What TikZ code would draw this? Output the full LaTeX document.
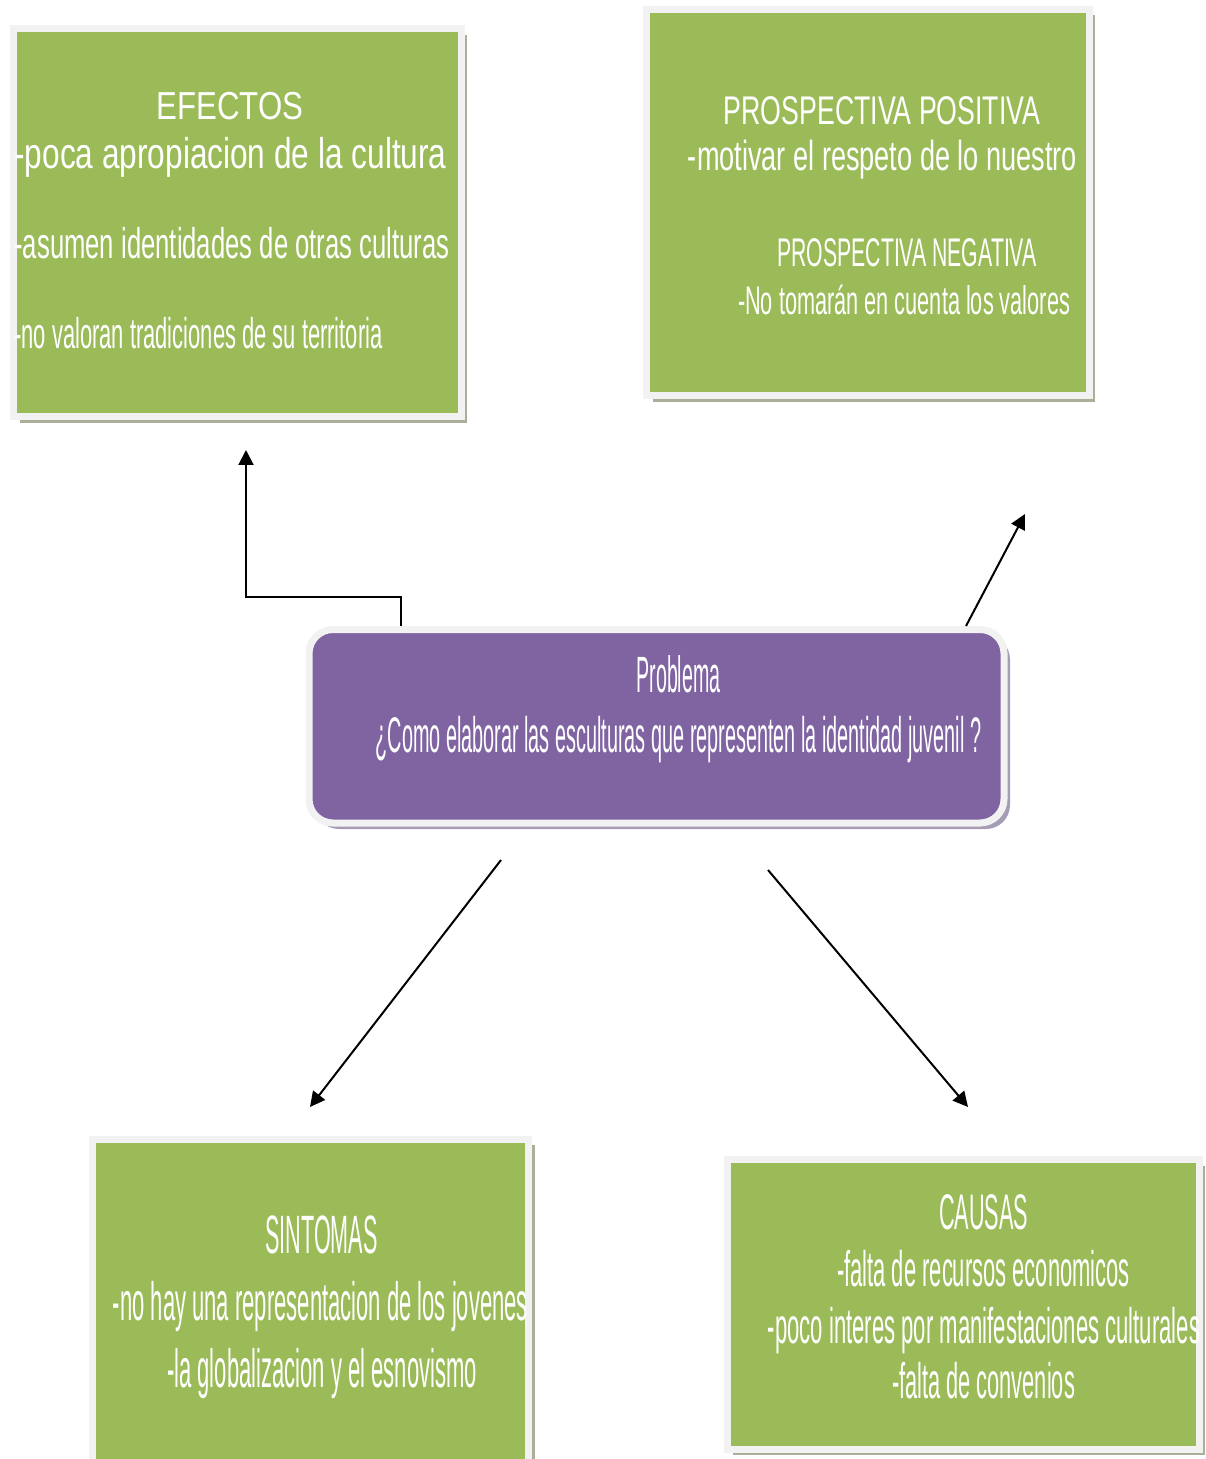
\documentclass[tikz,border=0pt]{standalone}
\usepackage{fontspec}
\setmainfont{Liberation Sans}
\usepackage{graphicx}
\usetikzlibrary{arrows.meta, positioning, fit, shadows}

\definecolor{boxgreen}{HTML}{9BBB59}
\definecolor{boxpurple}{HTML}{8064A2}
\definecolor{boxedge}{HTML}{F2F2F2}
\definecolor{shgreen}{HTML}{A9B097}
\definecolor{shpurple}{HTML}{A69CB6}

% squeeze a line sideways
\newcommand{\sqz}[2]{\scalebox{#1}[1]{#2}}

\begin{document}
\begin{tikzpicture}[x=0.5pt, y=-0.5pt,
    gbox/.style={rectangle, fill=boxgreen, draw=boxedge, line width=3.5pt, inner sep=0pt,
        drop shadow={shadow xshift=3pt, shadow yshift=-3pt, fill=shgreen, opacity=1}},
    pbox/.style={rectangle, rounded corners=12pt, fill=boxpurple, draw=boxedge, line width=3.5pt, inner sep=0pt,
        drop shadow={shadow xshift=3pt, shadow yshift=-3pt, fill=shpurple, opacity=1}},
    lbl/.style={text=white, inner sep=0pt, anchor=base, font=\fontsize{#1}{#1}\selectfont},
    arrow/.style={-{Triangle[length=7.5pt, width=7.5pt]}, line width=1pt}
]

\useasboundingbox[fill=white] (0,0) rectangle (1205,1459);

% Boxes
\node[gbox, fit={(13.5,29) (461,417)}] (efectos) {};
\node[gbox, fit={(646.5,9.5) (1089,396)}] (prosp) {};
\node[pbox, fit={(309,629.5) (1004,823)}] (problema) {};
\node[gbox, fit={(92.5,1139) (528.5,1462)}] (sintomas) {};
\node[gbox, fit={(727,1159.5) (1199,1449)}] (causas) {};

% Texts - efectos
\node[lbl=19.5] (efT) at (230,120) {\sqz{0.80}{EFECTOS}};
\node[lbl=21.5, anchor=base west] (ef1) at (14,169) {\sqz{0.735}{-poca apropiacion de la cultura}};
\node[lbl=21.5, anchor=base west] (ef2) at (14,259) {\sqz{0.597}{-asumen identidades de otras culturas}};
\node[lbl=21.5, anchor=base west] (ef3) at (14,349) {\sqz{0.51}{-no valoran tradiciones de su territoria}};

% Texts - prospectiva
\node[lbl=20] (prT1) at (882,125) {\sqz{0.667}{PROSPECTIVA POSITIVA}};
\node[lbl=21] (pr1) at (882.5,171) {\sqz{0.646}{-motivar el respeto de lo nuestro}};
\node[lbl=20] (prT2) at (907,267) {\sqz{0.53}{PROSPECTIVA NEGATIVA}};
\node[lbl=20] (pr2) at (904,315) {\sqz{0.543}{-No tomarán en cuenta los valores}};

% Texts - problema
\node[lbl=25.5] (pbT) at (678.5,692) {\sqz{0.385}{Problema}};
\node[lbl=25] (pb1) at (678.5,752) {\sqz{0.397}{¿Como elaborar las esculturas que representen la identidad juvenil ?}};

% Texts - sintomas
\node[lbl=27] (snT) at (321.5,1253) {\sqz{0.40}{SINTOMAS}};
\node[lbl=27] (sn1) at (320.5,1320) {\sqz{0.408}{-no hay una representacion de los jovenes}};
\node[lbl=27] (sn2) at (322,1387) {\sqz{0.408}{-la globalizacion y el esnovismo}};

% Texts - causas
\node[lbl=25] (caT) at (983.5,1229) {\sqz{0.433}{CAUSAS}};
\node[lbl=25] (ca1) at (983.5,1286) {\sqz{0.439}{-falta de recursos economicos}};
\node[lbl=25] (ca2) at (984,1343) {\sqz{0.442}{-poco interes por manifestaciones culturales}};
\node[lbl=25] (ca3) at (983.5,1398) {\sqz{0.436}{-falta de convenios}};

% Arrow ends
\coordinate (efFrom) at (401,626);
\coordinate (efTo) at (246,450);
\coordinate (prFrom) at (966,626);
\coordinate (prTo) at (1025,514);
\coordinate (snFrom) at (501,860);
\coordinate (snTo) at (310,1107);
\coordinate (caFrom) at (768,870);
\coordinate (caTo) at (968,1107);

% Arrows
\draw[arrow] (efFrom) -- ++(0,-29) -| (efTo);
\draw[arrow] (prFrom) -- (prTo);
\draw[arrow] (snFrom) -- (snTo);
\draw[arrow] (caFrom) -- (caTo);

\end{tikzpicture}
\end{document}
